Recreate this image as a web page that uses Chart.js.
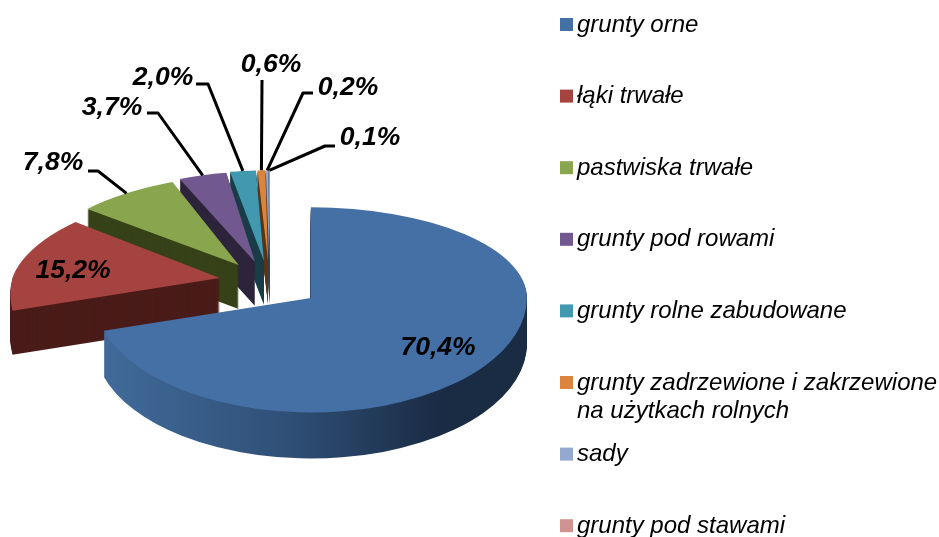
<!DOCTYPE html>
<html>
<head>
<meta charset="utf-8">
<title>Struktura użytków rolnych</title>
<script src="https://cdn.jsdelivr.net/npm/chart.js@4"></script>
<style>
  html, body { margin: 0; padding: 0; background: #fff; overflow: hidden; }
  canvas { display: block; }
</style>
</head>
<body>
<canvas id="wykres" width="939" height="537"></canvas>
<script>
const kategorie = [
    "grunty orne",
    "łąki trwałe",
    "pastwiska trwałe",
    "grunty pod rowami",
    "grunty rolne zabudowane",
    ["grunty zadrzewione i zakrzewione", "na użytkach rolnych"],
    "sady",
    "grunty pod stawami"
];
const wartosci = [70.4, 15.2, 7.8, 3.7, 2.0, 0.6, 0.2, 0.1];
const kolory = ["#4470A6", "#A54340", "#89A54E", "#71588F", "#4198AF", "#DB843D", "#93A9CF", "#D19392"];
const koloryScian = ["#2c4a70", "#4a1c19", "#374219", "#2d233a", "#1a3d47", "#5c3618", "#3d4656", "#553c3c"];

// fake 3D settings
const promien = 216;
const wysuniecie = 51;
const glebokosc = 44;
const skalaGora = 0.42;
const skalaDol = 0.53;
const zbieznosc = 0.00066;
const skalaDalsza = 0.96;

// where each value label sits, and the elbow of its leader line (null = no line)
const etykiety = [
    { x: 438, y: 348, linia: null },
    { x: 73, y: 271, linia: null },
    { x: 53, y: 163, linia: [[98, 171], [88, 171]] },
    { x: 112, y: 108, linia: [[158, 113], [147, 113]] },
    { x: 163, y: 78, linia: [[208, 84], [196, 84]] },
    { x: 271, y: 65, linia: [[262, 80]] },
    { x: 348, y: 88, linia: [[303, 93], [313, 93]] },
    { x: 370, y: 138, linia: [[325, 146], [335, 146]] }
];

// apex of the exploded slice, plus the shear and narrowing that fake the perspective
function rzut(arc) {
    const srodek = (arc.startAngle + arc.endAngle) / 2;
    const ex = Math.cos(srodek) * wysuniecie;
    const ey = Math.sin(srodek) * wysuniecie;
    const apexX = arc.x + ex;
    const apexY = Math.round(arc.y + ey * (ey > 0 ? skalaDol : skalaGora));
    const daleki = Math.sin(srodek) < 0;
    const shear = daleki ? zbieznosc * Math.abs(Math.cos(srodek) * promien) : 0;
    const skalaX = daleki ? skalaDalsza : 1;
    return { apexX, apexY, shear, skalaX, daleki };
}

function rysujWycinek(ctx, arc, przesuniecie, szer, wys) {
    const r = rzut(arc);
    const y0 = r.apexY + przesuniecie;
    const polowy = [
        { top: 0, h: y0, k: skalaGora },
        { top: y0, h: wys - y0, k: skalaDol }
    ];
    polowy.forEach(function (p) {
        ctx.save();
        ctx.beginPath();
        ctx.rect(0, p.top, szer, p.h);
        ctx.clip();
        ctx.transform(r.skalaX, 0, -r.shear, p.k,
            r.apexX - r.skalaX * arc.x + r.shear * arc.y,
            y0 - p.k * arc.y);
        arc.draw(ctx);
        ctx.restore();
    });
}

const pie3d = {
    id: "pie3d",
    beforeDatasetsDraw(chart) {
        const ctx = chart.ctx;
        const arcs = chart.getDatasetMeta(0).data;

        // back to front: the smallest slices are behind, the blue one on top
        for (let i = arcs.length - 1; i >= 0; i--) {
            const arc = arcs[i];
            const opcje = arc.options;
            let sciana = koloryScian[i];
            if (i === 0) {
                const g = ctx.createLinearGradient(arc.x - promien, 0, arc.x + promien, 0);
                g.addColorStop(0, "#426c9c");
                g.addColorStop(0.45, "#2f4f76");
                g.addColorStop(0.8, "#1a2b44");
                g.addColorStop(1, "#1a2b44");
                sciana = g;
            }
            arc.options = Object.assign({}, opcje, { backgroundColor: sciana });
            // the near slice is a bit taller
            const h = rzut(arc).daleki ? glebokosc : glebokosc + 2;
            for (let d = h; d >= 1; d--) {
                rysujWycinek(ctx, arc, d, chart.width, chart.height);
            }
            arc.options = opcje;
            rysujWycinek(ctx, arc, 0, chart.width, chart.height);
        }
        return false;
    },
    afterDraw(chart) {
        const ctx = chart.ctx;
        const arcs = chart.getDatasetMeta(0).data;
        ctx.save();

        // leader lines start on the middle of the outer edge
        ctx.strokeStyle = "#000";
        ctx.lineWidth = 3;
        ctx.lineJoin = "round";
        etykiety.forEach(function (et, i) {
            if (!et.linia) return;
            const arc = arcs[i];
            const r = rzut(arc);
            const srodek = (arc.startAngle + arc.endAngle) / 2;
            const px = Math.cos(srodek) * promien;
            const py = Math.sin(srodek) * promien;
            ctx.beginPath();
            ctx.moveTo(r.apexX + px * r.skalaX - r.shear * py, r.apexY + py * skalaGora);
            et.linia.forEach(function (p) { ctx.lineTo(p[0], p[1]); });
            ctx.stroke();
        });

        // value labels
        ctx.fillStyle = "#000";
        ctx.font = "italic bold 26.5px 'Liberation Sans'";
        ctx.textAlign = "center";
        ctx.textBaseline = "middle";
        etykiety.forEach(function (et, i) {
            ctx.fillText(wartosci[i].toFixed(1).replace(".", ",") + "%", et.x, et.y);
        });

        // legend: even steps, the two line entry does not push the next one
        ctx.font = "italic 24px 'Liberation Sans'";
        ctx.textAlign = "left";
        kategorie.forEach(function (nazwa, i) {
            const y = 24 + i * 71.6;
            ctx.fillStyle = kolory[i];
            ctx.fillRect(560, y - 6, 13, 13);
            ctx.fillStyle = "#000";
            const linie = Array.isArray(nazwa) ? nazwa : [nazwa];
            linie.forEach(function (tekst, j) {
                ctx.fillText(tekst, 577, y + 1 + j * 28);
            });
        });
        ctx.restore();
    }
};

const chart = new Chart(document.getElementById("wykres").getContext("2d"), {
    type: "pie",
    data: {
        labels: kategorie,
        datasets: [{
            data: wartosci,
            backgroundColor: kolory,
            borderWidth: 0
        }]
    },
    options: {
        responsive: false,
        animation: false,
        radius: promien,
        layout: { padding: { top: 27, right: 399, bottom: 0, left: 0 } },
        plugins: {
            legend: { display: false },
            tooltip: { enabled: false }
        }
    },
    plugins: [pie3d]
});
</script>
</body>
</html>
